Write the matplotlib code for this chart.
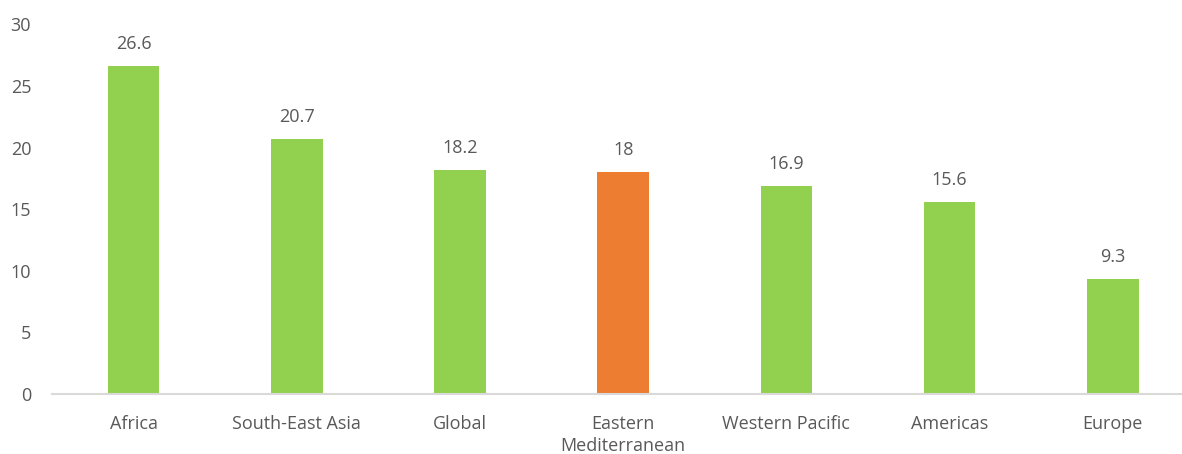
import matplotlib
matplotlib.use("Agg")
import matplotlib.pyplot as plt

regions = ["Africa", "South-East Asia", "Global", "Eastern\nMediterranean",
           "Western Pacific", "Americas", "Europe"]
values = [26.6, 20.7, 18.2, 18, 16.9, 15.6, 9.3]
value_labels = ["26.6", "20.7", "18.2", "18", "16.9", "15.6", "9.3"]
highlight = "Eastern\nMediterranean"

GREEN = "#92D050"
ORANGE = "#ED7D31"
TEXT = "#595959"

plt.rcParams["font.family"] = ["Open Sans", "DejaVu Sans"]

fig = plt.figure(figsize=(11.82, 4.54), dpi=100)
W, H = 1182, 454
ax = fig.add_axes([52 / W, 60 / H, 1142.4 / W, 369.6 / H])

colors = [ORANGE if r == highlight else GREEN for r in regions]
x = list(range(len(regions)))
bars = ax.bar(x, values, width=0.315, color=colors)

for b, lab in zip(bars, value_labels):
    ax.text(b.get_x() + b.get_width() / 2, b.get_height() + 1.8, lab,
            ha="center", va="center", fontsize=13, color=TEXT)

ax.set_xlim(-0.5, len(regions) - 0.5)
ax.set_ylim(0, 30)
ax.set_yticks(range(0, 31, 5))
ax.set_xticks(x)
ax.set_xticklabels(regions, fontsize=13, color=TEXT, linespacing=1.3, va="top")
ax.tick_params(axis="y", length=0, labelsize=13, labelcolor=TEXT, pad=15)
ax.tick_params(axis="x", length=0, pad=15)
for side in ["top", "right", "left"]:
    ax.spines[side].set_visible(False)
ax.spines["bottom"].set_color("#D9D9D9")
ax.spines["bottom"].set_linewidth(1.5)

fig.savefig("out.png", dpi=100)
